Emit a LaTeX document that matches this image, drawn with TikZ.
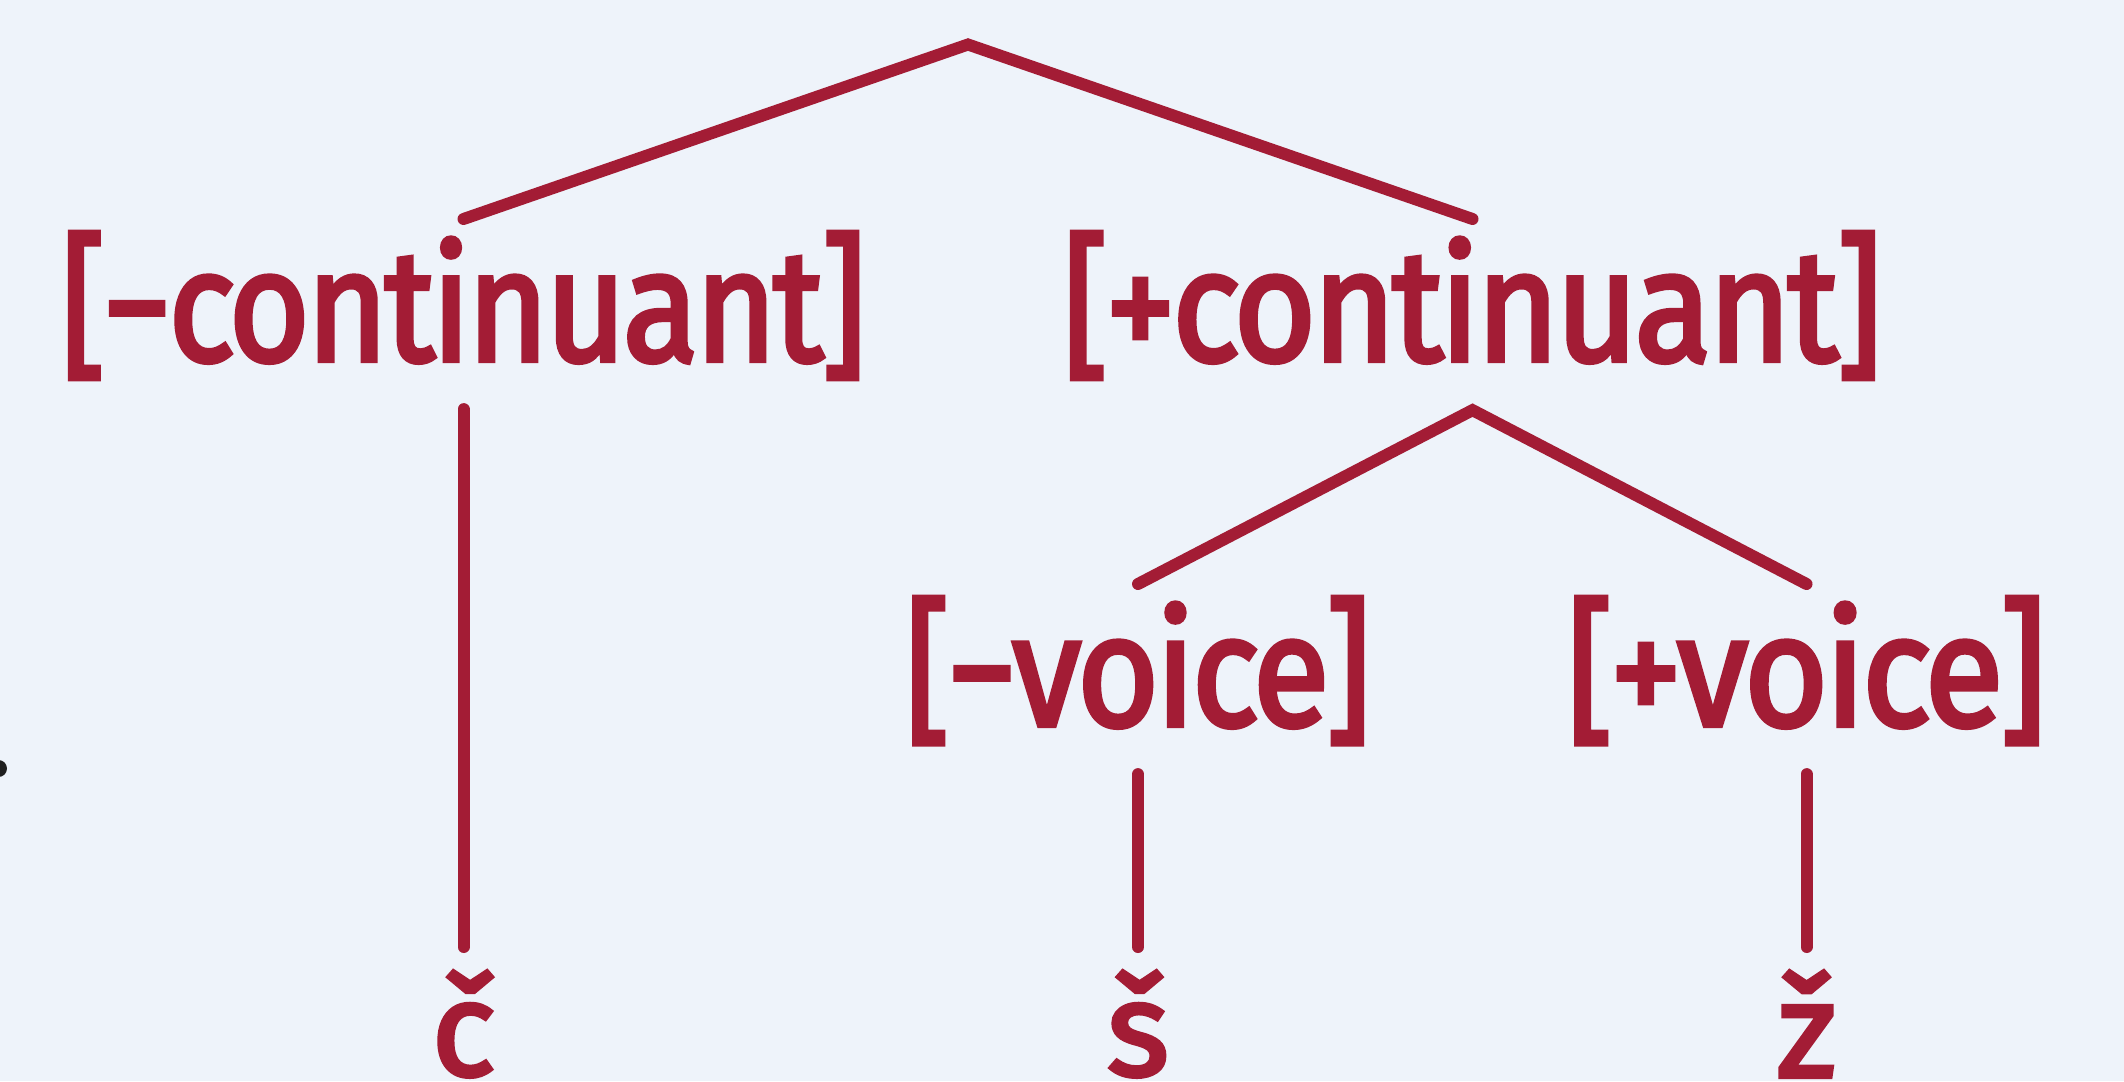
\documentclass[tikz,border=0pt]{standalone}
\usepackage{fontspec}
\setmainfont{Fira Sans}
\newfontfamily\featfont{Fira Sans}[FakeBold=3, LetterSpace=-2.5]
\usepackage{graphicx}
\definecolor{crimson}{HTML}{A31C35}
\definecolor{paper}{HTML}{EEF3FA}
\tikzset{
  branch/.style={draw=crimson, line width=12pt, line cap=round, line join=miter},
  feat/.style={inner sep=0pt, outer sep=0pt, text=crimson, anchor=north},
}
% feature label stretched to a given width and total height
\newcommand{\featbox}[3]{\resizebox*{#1pt}{#2pt}{\featfont #3}}
% segment letter scaled to a given total height
\newcommand{\segbox}[2]{\resizebox*{!}{#1pt}{\featfont #2}}

\begin{document}
\begin{tikzpicture}[x=1pt, y=-1pt]
  \fill[paper] (0,0) rectangle (2124,1081);
  \useasboundingbox (0,0) rectangle (2124,1081);

  % stray dot on the left edge
  \fill[black!88] (-1.5,768.5) circle (8.5);

  % feature labels
  \node[feat] (cm) at (463.5,232)  {\featbox{805}{147}{[−continuant]}};
  \node[feat] (cp) at (1472.5,232) {\featbox{819}{147}{[+continuant]}};
  \node[feat] (mv) at (1138,597)   {\featbox{466}{147}{[−voice]}};
  \node[feat] (pv) at (1806.5,597) {\featbox{479}{147}{[+voice]}};

  % segments
  \node[feat] (sc) at (463.5,971)  {\segbox{106}{č}};
  \node[feat] (ss) at (1138,971)   {\segbox{106}{š}};
  \node[feat] (sz) at (1806.5,971) {\segbox{106}{ž}};

  % branching points
  \coordinate (A) at (968,44.5);
  \coordinate (B) at ([yshift=-31pt]cp.south);

  % tree
  \draw[branch] ([yshift=13pt]cm.north) -- (A) -- ([yshift=13pt]cp.north);
  \draw[branch] ([yshift=13pt]mv.north) -- (B) -- ([yshift=13pt]pv.north);
  \draw[branch] ([yshift=-30pt]cm.south) -- ([yshift=24pt]sc.north);
  \draw[branch] ([yshift=-30pt]mv.south) -- ([yshift=24pt]ss.north);
  \draw[branch] ([yshift=-30pt]pv.south) -- ([yshift=24pt]sz.north);
\end{tikzpicture}
\end{document}
